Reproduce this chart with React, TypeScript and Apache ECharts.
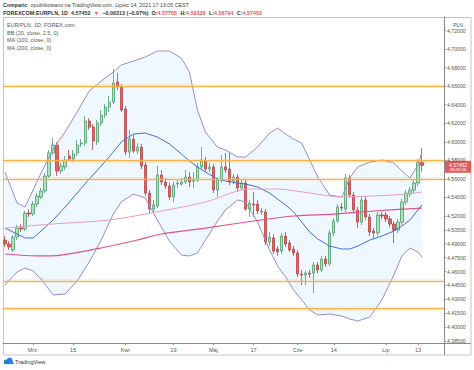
import React, { useEffect, useRef } from "react";
import * as echarts from "echarts";

// ---- categories: trading days (weekdays) from 2021-02-18, 105 bars + 5 empty slots
const FIRST_DAY = [2021, 1, 18];
const SLOT_COUNT = 110;
const CATEGORIES: string[] = (() => {
  const out: string[] = [];
  const d = new Date(Date.UTC(FIRST_DAY[0], FIRST_DAY[1], FIRST_DAY[2]));
  while (out.length < SLOT_COUNT) {
    const wd = d.getUTCDay();
    if (wd !== 0 && wd !== 6) out.push(d.toISOString().slice(0, 10));
    d.setUTCDate(d.getUTCDate() + 1);
  }
  return out;
})();

const X_TICK_DATES = ["2021-03-01", "2021-03-15", "2021-04-01", "2021-04-19", "2021-05-03", "2021-05-17", "2021-06-01", "2021-06-14", "2021-07-01", "2021-07-13"];
const X_TICK_TEXTS = ["Mrz.", "15", "Kwi", "19", "Maj", "17", "Cze", "14", "Lip", "13"];

const Y_TICKS = [4.72, 4.7, 4.68, 4.66, 4.64, 4.62, 4.6, 4.58, 4.56, 4.54, 4.52, 4.505, 4.49, 4.475, 4.46, 4.445, 4.43, 4.415, 4.4, 4.385];
const Y_MIN = 4.3829;
const Y_MAX = 4.7346;

// [open, close, low, high]
const CANDLES: number[][] = [
  [4.4940, 4.4897, 4.4865, 4.4983], [4.4897, 4.4865, 4.4832, 4.4929], [4.4832, 4.4972, 4.4811, 4.4994],
  [4.4972, 4.5069, 4.4940, 4.5102], [4.5069, 4.5059, 4.5026, 4.5113], [4.5059, 4.5231, 4.5037, 4.5253],
  [4.5231, 4.5220, 4.5188, 4.5274], [4.5220, 4.5328, 4.5199, 4.5361], [4.5328, 4.5415, 4.5296, 4.5447],
  [4.5404, 4.5469, 4.5382, 4.5501], [4.5469, 4.5630, 4.5447, 4.5663], [4.5630, 4.5879, 4.5609, 4.5911],
  [4.5879, 4.5965, 4.5857, 4.6040], [4.5965, 4.5684, 4.5630, 4.5997], [4.5684, 4.5738, 4.5652, 4.5771],
  [4.5728, 4.5803, 4.5695, 4.5846], [4.5846, 4.5814, 4.5792, 4.5911], [4.5814, 4.5868, 4.5781, 4.5911],
  [4.5879, 4.5965, 4.5846, 4.6019], [4.5976, 4.5986, 4.5943, 4.6029], [4.5986, 4.6224, 4.5954, 4.6278],
  [4.6224, 4.6159, 4.6127, 4.6256], [4.6159, 4.6008, 4.5911, 4.6191], [4.5997, 4.6202, 4.5965, 4.6234],
  [4.6202, 4.6288, 4.6170, 4.6342], [4.6288, 4.6375, 4.6256, 4.6407], [4.6375, 4.6429, 4.6321, 4.6493],
  [4.6429, 4.6634, 4.6407, 4.6785], [4.6644, 4.6591, 4.6558, 4.6742], [4.6591, 4.6342, 4.6321, 4.6623],
  [4.6353, 4.5889, 4.5857, 4.6385], [4.5889, 4.6029, 4.5825, 4.6127], [4.6029, 4.5900, 4.5879, 4.6073],
  [4.5900, 4.5943, 4.5868, 4.5986], [4.5943, 4.5738, 4.5706, 4.5976], [4.5749, 4.5447, 4.5415, 4.5781],
  [4.5447, 4.5274, 4.5231, 4.5479], [4.5274, 4.5318, 4.5231, 4.5372], [4.5307, 4.5641, 4.5285, 4.5738],
  [4.5641, 4.5566, 4.5533, 4.5695], [4.5566, 4.5523, 4.5490, 4.5609], [4.5523, 4.5404, 4.5372, 4.5555],
  [4.5404, 4.5533, 4.5350, 4.5566], [4.5544, 4.5555, 4.5501, 4.5598], [4.5544, 4.5566, 4.5523, 4.5609],
  [4.5566, 4.5620, 4.5544, 4.5695], [4.5620, 4.5566, 4.5512, 4.5674], [4.5576, 4.5587, 4.5501, 4.5674],
  [4.5587, 4.5728, 4.5566, 4.5771], [4.5728, 4.5803, 4.5695, 4.5943], [4.5792, 4.5706, 4.5674, 4.5835],
  [4.5706, 4.5728, 4.5674, 4.5771], [4.5728, 4.5479, 4.5447, 4.5760], [4.5479, 4.5587, 4.5404, 4.5620],
  [4.5587, 4.5728, 4.5555, 4.5857], [4.5728, 4.5695, 4.5663, 4.5879], [4.5706, 4.5566, 4.5533, 4.5889],
  [4.5576, 4.5620, 4.5544, 4.5652], [4.5620, 4.5501, 4.5458, 4.5652], [4.5501, 4.5555, 4.5479, 4.5587],
  [4.5555, 4.5274, 4.5253, 4.5587], [4.5274, 4.5339, 4.5188, 4.5372], [4.5328, 4.5318, 4.5188, 4.5458],
  [4.5328, 4.5253, 4.5220, 4.5372], [4.5242, 4.5253, 4.5210, 4.5285], [4.5242, 4.4918, 4.4886, 4.5274],
  [4.4918, 4.4972, 4.4875, 4.5026], [4.4962, 4.4821, 4.4789, 4.5005], [4.4843, 4.4811, 4.4768, 4.4875],
  [4.4821, 4.4983, 4.4789, 4.5016], [4.4983, 4.4897, 4.4865, 4.5026], [4.4908, 4.4832, 4.4811, 4.4940],
  [4.4843, 4.4800, 4.4768, 4.4875], [4.4800, 4.4573, 4.4541, 4.4832], [4.4573, 4.4563, 4.4455, 4.4617],
  [4.4563, 4.4584, 4.4455, 4.4606], [4.4584, 4.4573, 4.4530, 4.4617], [4.4584, 4.4670, 4.4368, 4.4703],
  [4.4670, 4.4617, 4.4584, 4.4703], [4.4617, 4.4735, 4.4595, 4.4768], [4.4735, 4.4681, 4.4649, 4.4768],
  [4.4681, 4.5016, 4.4660, 4.5048], [4.5016, 4.5145, 4.4983, 4.5177], [4.5145, 4.5296, 4.5123, 4.5328],
  [4.5296, 4.5285, 4.5253, 4.5339], [4.5274, 4.5609, 4.5242, 4.5652], [4.5609, 4.5425, 4.5393, 4.5641],
  [4.5425, 4.5264, 4.5231, 4.5458], [4.5264, 4.5134, 4.5069, 4.5296], [4.5134, 4.5372, 4.5102, 4.5415],
  [4.5372, 4.5188, 4.5156, 4.5415], [4.5188, 4.5026, 4.4983, 4.5220], [4.5037, 4.5016, 4.4951, 4.5069],
  [4.5016, 4.5210, 4.4983, 4.5242], [4.5210, 4.5199, 4.5167, 4.5242], [4.5210, 4.5167, 4.5134, 4.5242],
  [4.5167, 4.5113, 4.5080, 4.5199], [4.5113, 4.5048, 4.4908, 4.5145], [4.5048, 4.5134, 4.5016, 4.5167],
  [4.5134, 4.5350, 4.5102, 4.5382], [4.5350, 4.5447, 4.5318, 4.5479], [4.5436, 4.5479, 4.5404, 4.5512],
  [4.5479, 4.5555, 4.5447, 4.5587], [4.5555, 4.5781, 4.5523, 4.5814], [4.57765, 4.57452, 4.56794, 4.59338],
];
const LAST_CLOSE = 4.57452;

// Bollinger Bands (20, 2.5), read at sample bars
const BB_IDX = [0, 3, 5, 7, 9, 12, 15, 18, 21, 24, 27, 29, 32, 35, 38, 41, 44, 46, 48, 50, 53, 55, 58, 60, 63, 66, 68, 70, 72, 74, 76, 78, 81, 84, 86, 88, 91, 94, 97, 99, 101, 103, 104];
const BB_UPPER = [4.5674, 4.5339, 4.5296, 4.5479, 4.5663, 4.5922, 4.6105, 4.6321, 4.6547, 4.6655, 4.6752, 4.6828, 4.6871, 4.6914, 4.6979, 4.6979, 4.6903, 4.6752, 4.6342, 4.6105, 4.5943, 4.5911, 4.5835, 4.5835, 4.5943, 4.6094, 4.6148, 4.6083, 4.6029, 4.5986, 4.5803, 4.5620, 4.5425, 4.5404, 4.5609, 4.5728, 4.5781, 4.5803, 4.5771, 4.5684, 4.5609, 4.5749, 4.5889];
const BB_BASIS = [4.5069, 4.5005, 4.4962, 4.4962, 4.5037, 4.5156, 4.5296, 4.5447, 4.5598, 4.5738, 4.5889, 4.5997, 4.6083, 4.6094, 4.6051, 4.5976, 4.5868, 4.5792, 4.5728, 4.5674, 4.5598, 4.5576, 4.5555, 4.5544, 4.5512, 4.5447, 4.5382, 4.5318, 4.5242, 4.5134, 4.5026, 4.4951, 4.4875, 4.4843, 4.4843, 4.4875, 4.4940, 4.4983, 4.5037, 4.5091, 4.5156, 4.5264, 4.5318];
const BB_LOWER = [4.4455, 4.4595, 4.4638, 4.4606, 4.4519, 4.4347, 4.4358, 4.4498, 4.4703, 4.4940, 4.5220, 4.5350, 4.5436, 4.5393, 4.5156, 4.4929, 4.4778, 4.4768, 4.4800, 4.4940, 4.5145, 4.5264, 4.5372, 4.5350, 4.5134, 4.4832, 4.4660, 4.4541, 4.4401, 4.4293, 4.4185, 4.4131, 4.4142, 4.4120, 4.4088, 4.4066, 4.4109, 4.4293, 4.4563, 4.4768, 4.4854, 4.4811, 4.4757];

const MA100_IDX = [0, 12, 26, 39, 50, 61, 68, 76, 84, 92, 100, 104];
const MA100 = [4.5069, 4.5113, 4.5156, 4.5253, 4.5350, 4.5490, 4.5490, 4.5447, 4.5404, 4.5415, 4.5436, 4.5458];
const MA200_IDX = [0, 8, 14, 24, 33, 39, 50, 62, 72, 82, 92, 104];
const MA200 = [4.4789, 4.4768, 4.4778, 4.4854, 4.4940, 4.5005, 4.5069, 4.5145, 4.5199, 4.5220, 4.5253, 4.5285];

// horizontal support / resistance levels
const LEVELS = [4.6648, 4.5843, 4.5606, 4.4501, 4.416];

const HEADER_1 = "opublikowano na TradingView.com, Lipiec 14, 2021 17:13:05 CEST";
const LEGEND_LINES = ["EUR/PLN, 1D, FOREX.com", "BB (20, close, 2.5, 0)", "MA (100, close, 0)", "MA (200, close, 0)"];

const FONT = '"Liberation Sans", Arial, sans-serif';

export default function App() {
  const ref = useRef<HTMLDivElement>(null);
  useEffect(() => {
    if (!ref.current) return;
    const chart = echarts.init(ref.current, null, { renderer: "svg" });
    const tickSet = new Set(X_TICK_DATES);
    const pairs = (idx: number[], vals: number[]) => idx.map((ix, k) => [ix, vals[k]]);

    const levelSeries = (width: number, color: string, z: number) => ({
      type: "line",
      data: [],
      z,
      silent: true,
      markLine: {
        silent: true,
        symbol: ["none", "none"],
        label: { show: false },
        lineStyle: { color, width, type: "solid" },
        data: LEVELS.map((v) => ({ yAxis: v })),
      },
    });

    const legendGraphics = LEGEND_LINES.map((t, k) => ({
      type: "text",
      id: "leg" + k,
      x: 7,
      y: 25 + k * 7.5,
      style: { text: t, fill: "#555", font: `5.5px ${FONT}`, textVerticalAlign: "middle" },
    }));

    const baseGraphics: any[] = [
      { type: "rect", id: "frame", shape: { x: 3.5, y: 17.5, width: 467.5, height: 337.5 }, style: { fill: "none", stroke: "#c4c4c4", lineWidth: 1 }, silent: true },
      { type: "line", id: "sepH", shape: { x1: 444, y1: 343.5, x2: 471, y2: 343.5 }, style: { stroke: "#8a8a8a", lineWidth: 1 } },
      { type: "line", id: "sepV", shape: { x1: 444.5, y1: 343, x2: 444.5, y2: 355 }, style: { stroke: "#8a8a8a", lineWidth: 1 } },
      {
        type: "text", id: "h1", x: 3, y: 5,
        style: {
          text: "{b|Comparic} {n|" + HEADER_1 + "}",
          textVerticalAlign: "middle",
          rich: {
            b: { font: `bold 5.3px ${FONT}`, fill: "#333" },
            n: { font: `5.3px ${FONT}`, fill: "#444" },
          },
        },
      },
      {
        type: "text", id: "h2", x: 3, y: 12.5,
        style: {
          text: "{t|FOREXCOM:EURPLN, 1D  4.57452} {r|▼} {t|−0.00313 (−0.07%)  O:}{r|4.57765} {t|H:}{r|4.59338} {t|L:}{r|4.56794} {t|C:}{r|4.57452}",
          textVerticalAlign: "middle",
          rich: {
            t: { font: `bold 5.4px ${FONT}`, fill: "#333" },
            r: { font: `bold 5.4px ${FONT}`, fill: "#e8545a" },
          },
        },
      },
      ...legendGraphics,
      { type: "text", id: "pln", x: 458, y: 24.5, style: { text: "PLN", fill: "#555", font: `5px ${FONT}`, textAlign: "center", textVerticalAlign: "middle" } },
      { type: "circle", id: "lg1", shape: { cx: 6.2, cy: 361.8, r: 2.3 }, style: { fill: "#2a7de1" } },
      { type: "circle", id: "lg2", shape: { cx: 9.6, cy: 360.6, r: 3 }, style: { fill: "#2a7de1" } },
      { type: "rect", id: "lg3", shape: { x: 4, y: 361.5, width: 9.5, height: 2.6 }, style: { fill: "#2a7de1" } },
      { type: "text", id: "tv", x: 15, y: 362, style: { text: "TradingView", fill: "#333", font: `5.5px ${FONT}`, textVerticalAlign: "middle" } },
    ];

    const option: any = {
      animation: false,
      backgroundColor: "#ffffff",
      grid: { left: 3, right: 30, top: 17, bottom: 27, containLabel: false },
      xAxis: {
        type: "category",
        data: CATEGORIES,
        boundaryGap: true,
        axisLine: { show: true, lineStyle: { color: "#8a8a8a", width: 1 } },
        axisTick: {
          show: true,
          alignWithLabel: true,
          length: 2,
          interval: (_i: number, v: string) => tickSet.has(v),
          lineStyle: { color: "#8a8a8a" },
        },
        axisLabel: {
          interval: (_i: number, v: string) => tickSet.has(v),
          formatter: (v: string) => {
            const k = X_TICK_DATES.indexOf(v);
            return k >= 0 ? X_TICK_TEXTS[k] : "";
          },
          fontSize: 5.5,
          fontFamily: FONT,
          color: "#555",
          margin: 3.5,
        },
        splitLine: { show: false },
      },
      yAxis: {
        type: "value",
        position: "right",
        min: Y_MIN,
        max: Y_MAX,
        scale: true,
        axisLine: { show: true, lineStyle: { color: "#8a8a8a", width: 1 } },
        axisTick: { show: true, length: 2, customValues: Y_TICKS, lineStyle: { color: "#8a8a8a" } },
        axisLabel: {
          customValues: Y_TICKS,
          formatter: (v: number) => v.toFixed(5),
          fontSize: 5.2,
          fontFamily: FONT,
          color: "#555",
          margin: 3,
        },
        splitLine: { show: false },
      },
      series: [
        {
          type: "custom",
          name: "bbfill",
          silent: true,
          z: 1,
          clip: true,
          renderItem: (_p: any, api: any) => {
            const pts: number[][] = [];
            BB_IDX.forEach((ix, k) => pts.push(api.coord([ix, BB_UPPER[k]])));
            for (let k = BB_IDX.length - 1; k >= 0; k--) pts.push(api.coord([BB_IDX[k], BB_LOWER[k]]));
            return { type: "polygon", shape: { points: pts }, style: { fill: "rgba(33,150,243,0.07)" } };
          },
          data: [[0, BB_LOWER[0]]],
        },
        {
          type: "candlestick",
          z: 2,
          barWidth: 2.8,
          data: CANDLES,
          itemStyle: {
            color: "#b2dfbf",
            color0: "#dd6363",
            borderColor: "#4e9e69",
            borderColor0: "#b94444",
            borderWidth: 0.8,
          },
        },
        { type: "line", z: 3, symbol: "none", data: pairs(BB_IDX, BB_UPPER), lineStyle: { color: "#9b8bd3", width: 1 } },
        { type: "line", z: 3, symbol: "none", data: pairs(BB_IDX, BB_LOWER), lineStyle: { color: "#9b8bd3", width: 1 } },
        { type: "line", z: 3, symbol: "none", data: pairs(BB_IDX, BB_BASIS), lineStyle: { color: "#3f6fd8", width: 1 } },
        { type: "line", z: 3, symbol: "none", smooth: 0.3, data: pairs(MA100_IDX, MA100), lineStyle: { color: "#e3a2c2", width: 1 } },
        { type: "line", z: 3, symbol: "none", smooth: 0.3, data: pairs(MA200_IDX, MA200), lineStyle: { color: "#e0528a", width: 1.2 } },
        levelSeries(3.5, "rgba(255,176,60,0.25)", 4),
        levelSeries(1, "#f7b04a", 5),
      ],
      graphic: baseGraphics,
    };
    chart.setOption(option);

    const yPix = chart.convertToPixel({ yAxisIndex: 0 }, LAST_CLOSE) as number;
    chart.setOption({
      graphic: [
        ...baseGraphics,
        { type: "rect", id: "plbox", shape: { x: 445, y: yPix - 4.6, width: 26, height: 12 }, style: { fill: "#e35b5b" } },
        { type: "text", id: "pl1", x: 458, y: yPix - 0.6, style: { text: "4.57452", fill: "#fff", font: `5px ${FONT}`, textAlign: "center", textVerticalAlign: "middle" } },
        { type: "text", id: "pl2", x: 458, y: yPix + 4.6, style: { text: "09:46:56", fill: "#fff", font: `4.3px ${FONT}`, textAlign: "center", textVerticalAlign: "middle" } },
      ],
    });

    return () => chart.dispose();
  }, []);

  return (
    <div
      ref={ref}
      style={{ position: "absolute", left: 0, top: 0, width: 474, height: 370, background: "#fff" }}
    />
  );
}
